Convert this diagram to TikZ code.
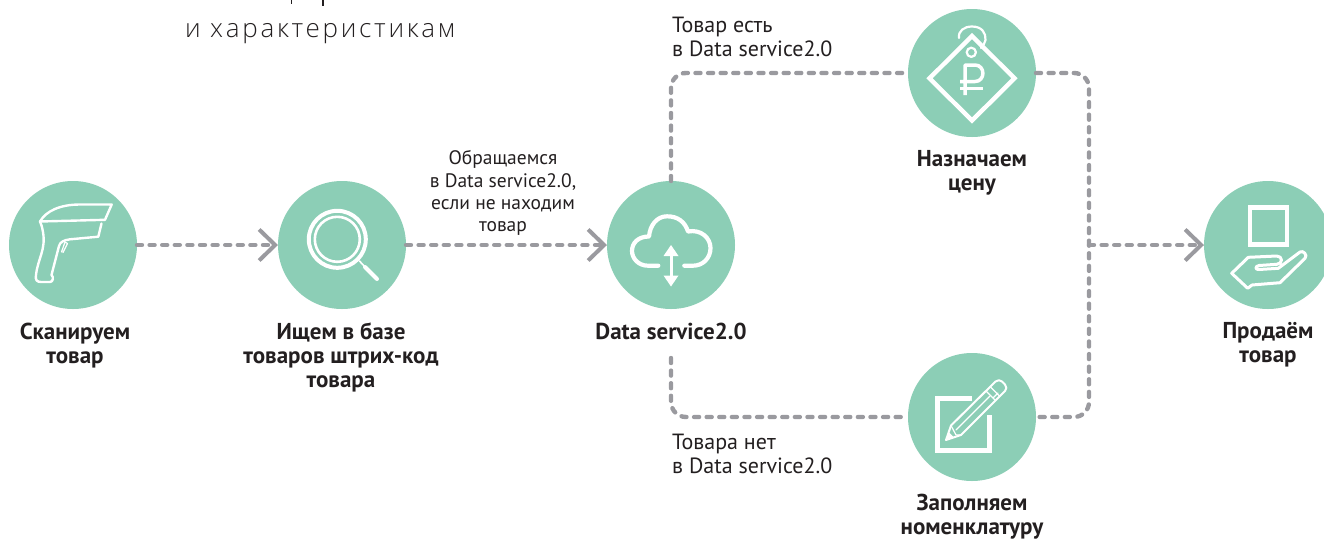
\documentclass[tikz,border=0pt]{standalone}
\usepackage{fontspec}
\setmainfont{PT Sans}
\newfontfamily\titlefont[LetterSpace=10.4]{Open Sans Light}
\usetikzlibrary{arrows.meta}
\definecolor{mint}{RGB}{140,206,182}
\definecolor{link}{RGB}{154,154,159}
\definecolor{ink}{RGB}{35,31,32}
\tikzset{
  x=1pt,y=-1pt,
  stage/.style={circle,fill=mint,minimum size=128pt,inner sep=0pt,outer sep=0pt},
  capt/.style={anchor=north,align=center,text=ink,font=\fontsize{23}{24}\selectfont\bfseries,inner sep=0pt},
  note/.style={align=left,text=ink,font=\fontsize{22}{24}\selectfont,inner sep=0pt,anchor=north west},
  notec/.style={align=center,text=ink,font=\fontsize{19.5}{22.3}\selectfont,inner sep=0pt,anchor=north},
  flow/.style={draw=link,line width=4.4pt,line cap=round,dash pattern=on 5pt off 7.6pt,rounded corners=15pt},
  go/.style={flow,-{Straight Barb[length=16pt,width=31pt,line width=4pt,color=link]}},
  ico/.style={draw=white,line width=2.4pt,line join=round,line cap=round},
}
\begin{document}
\begin{tikzpicture}
\useasboundingbox (0,0) rectangle (1324,539);
% stages
\node[stage] (scan) at (73,245) {};
\node[stage] (find) at (342,245) {};
\node[stage] (cloud) at (671,245) {};
\node[stage] (price) at (972,73) {};
\node[stage] (fill) at (972,417) {};
\node[stage] (sell) at (1268,245) {};
\coordinate (jn) at (1089,245);
\coordinate (tl) at (671,73);
\coordinate (bl) at (671,417);
\coordinate (tr) at (1089,73);
\coordinate (br) at (1089,417);
\coordinate (cs) at (671,358);
% connectors
\draw[go] (scan) -- (find);
\draw[go] (find) -- (cloud);
\draw[flow] (cloud) -- (tl) -- (price);
\draw[flow] (cs) -- (bl) -- (fill);
\draw[flow] (price) -- (tr) -- (br) -- (fill);
\draw[go] (jn) -- (sell);
% title
\node[anchor=base west,inner sep=0pt,text=ink,font=\fontsize{26}{30}\selectfont\titlefont] (title) at (185,37) {и характеристикам};
\coordinate (f1) at (291.5,0);\coordinate (f2) at (291.5,4);
\coordinate (f3) at (323,0);\coordinate (f4) at (323,6);
\draw[ink,line width=1.1pt] (f1) -- (f2) (f3) -- (f4);
% labels
\node[capt] (l1) at (75,322.5) {Сканируем\\товар};
\node[capt] (l2) at (341,322.5) {Ищем в базе\\товаров штрих-код\\товара};
\node[capt] (l3) at (671,322.5) {Data service2.0};
\node[capt] (l4) at (972,150.5) {Назначаем\\цену};
\node[capt] (l5) at (972,494) {Заполняем\\номенклатуру};
\node[capt] (l6) at (1268,322.5) {Продаём\\товар};
\node[note] (n1) at (672,17) {Товар есть\\в Data service2.0};
\node[note] (n2) at (672,433.5) {Товара нет\\в Data service2.0};
\node[notec] (n3) at (503,150.5) {Обращаемся\\в Data service2.0,\\если не находим\\товар};
% scanner
\draw[ico] (111.7,204.5) -- (80,204.5) .. controls (60,204.5) and (46,211) .. (40,221.5) -- (105,219.8) -- cycle;
\draw[ico] (40,221.5) .. controls (41,224) and (42,226) .. (43,232) .. controls (46,250) and (38,258) .. (36,275) .. controls (35,280) and (37,282) .. (41,282) -- (50,282) .. controls (53,282) and (54,277) .. (51.5,275) -- (59,246) .. controls (60,242) and (64,240) .. (70,239.3) -- (98.3,236.7) -- (101.5,223.5);
\draw[ico,line width=1.2pt] (61.5,252) -- (65,242) -- (67.5,243.5) -- (63,252.5);
% magnifier
\draw[ico,line width=4pt] (337.3,239.3) circle (28.5);
\draw[ico,line width=2.6pt] (337.3,239.3) circle (22.5);
\draw[ico,line width=1.6pt] (359.5,261) -- (365,267);
\draw[ico,line width=4pt] (365,267) -- (377,279);
% cloud
\draw[ico,line width=4.2pt] (658.3,265.7) -- (648,265.7) .. controls (638,265.7) and (632,258) .. (632,251) .. controls (632,243) and (638,236.5) .. (649,236.5) .. controls (650,225) and (657,216.3) .. (667,216.3) .. controls (678,216.3) and (685,222) .. (688,231.5) .. controls (701,229) and (710.5,238) .. (710.5,248) .. controls (710.5,258) and (703,265.7) .. (693,265.7) -- (684.3,265.7);
\draw[ico,line width=3pt,line cap=butt] (671,252) -- (671,280);
\fill[white] (671,245) -- (678.5,256) -- (663.5,256) -- cycle;
\fill[white] (671,286.5) -- (678.5,275.5) -- (663.5,275.5) -- cycle;
% price tag
\draw[ico,line width=4.4pt,line join=miter] (972,36) -- (1014.5,78.3) -- (972,120.5) -- (929.5,78.3) -- cycle;
\draw[ico,line width=2.2pt] (971.3,52.3) circle (4.6);
\draw[ico,line width=2.2pt] (959,38) .. controls (958,31) and (964,26.5) .. (972,26.5) .. controls (982,26.5) and (986,33) .. (985.5,40) .. controls (985,43) and (983,46) .. (981,48);
% ruble
\draw[ico,line width=3.5pt,line cap=butt] (965,95) -- (965,65) -- (975,65) .. controls (985.5,65) and (985.5,81.5) .. (975,81.5) -- (960,81.5);
\draw[ico,line width=3.5pt,line cap=butt] (960,88.3) -- (982.5,88.3);
% hand and box
\draw[ico,line width=4.8pt,line join=miter] (1250,207.5) rectangle (1287,244.3);
\draw[ico,line width=3pt] (1231.7,273.3) -- (1248.3,257.3) -- (1276.7,256) .. controls (1283,256) and (1283,264) .. (1276.7,264.3) -- (1259,265.5) .. controls (1255,266) and (1255,270) .. (1259,269.5) -- (1278.3,268.3) -- (1300,252) .. controls (1303,250) and (1308,255) .. (1305,258.3) -- (1280,282.7) -- (1252,285) -- (1247.7,288.3) -- cycle;
% form and pencil
\draw[ico,line width=5pt,line join=miter,line cap=butt] (971.7,398.5) -- (937,398.5) -- (937,450) -- (989,450) -- (989,415);
\draw[ico,line width=2pt] (946,440) -- (951,425.5) -- (995.5,381.5) .. controls (998,379.5) and (1000,380) .. (1002,381.5) -- (1005,384.5) .. controls (1007,387) and (1006.5,389) .. (1005,391) -- (961,435) -- cycle;
\draw[ico,line width=1.2pt] (951,425.5) -- (956,435) -- (961,435) (956,430) -- (990,396);
\draw[ico,line width=1.2pt] (990,386.5) -- (1000,396.5) (986,391) -- (995,400) (993,398) -- (998,393);
\fill[white] (946,440) -- (948.5,432) -- (953.5,437) -- cycle;
\end{tikzpicture}
\end{document}
